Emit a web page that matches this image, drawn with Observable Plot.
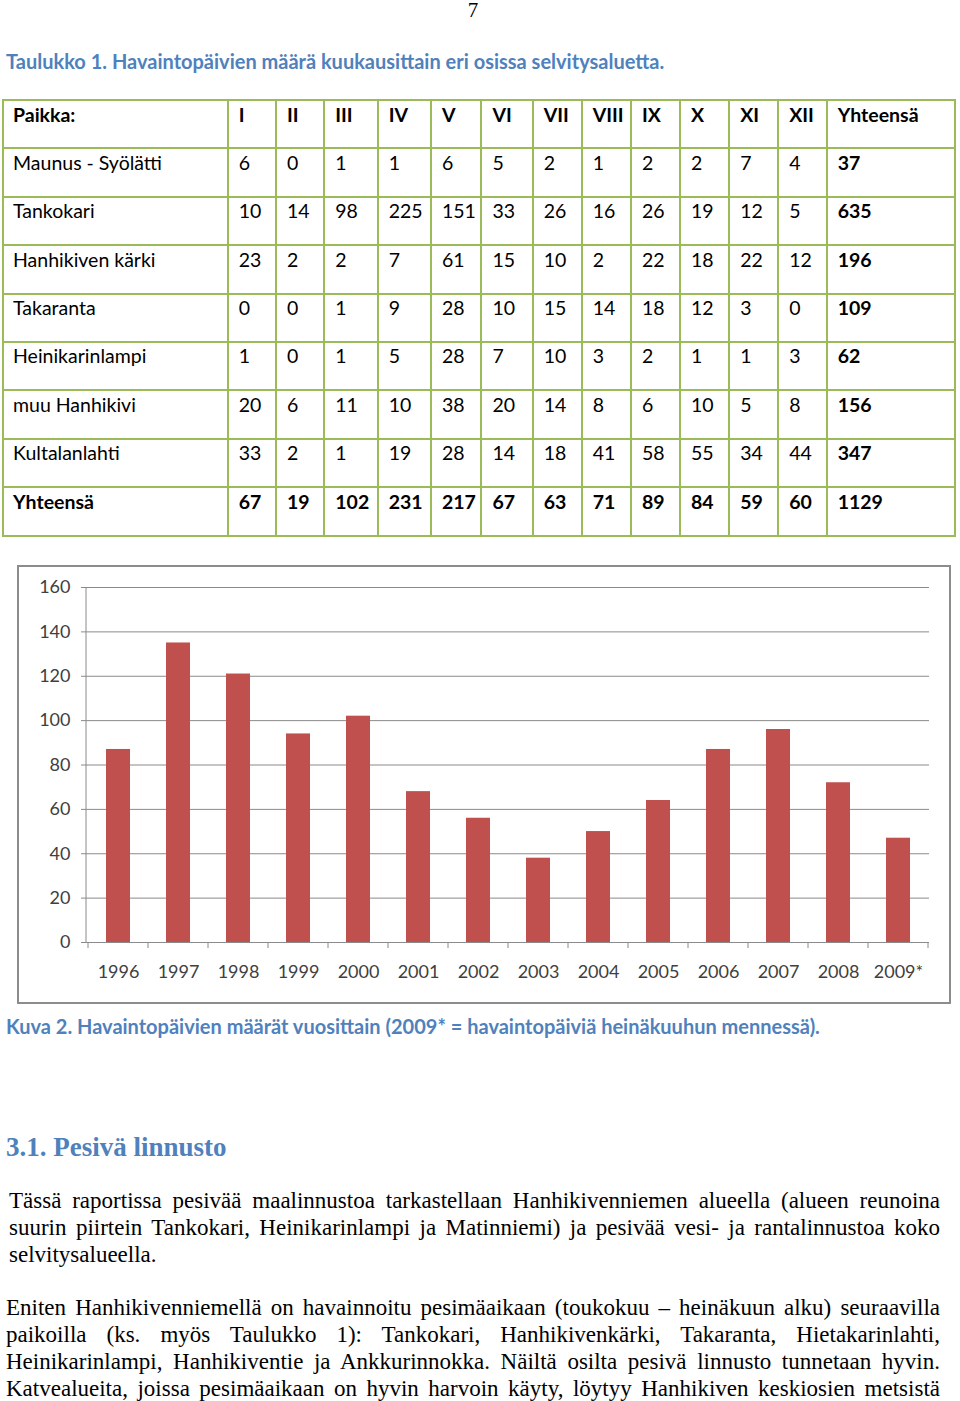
<!DOCTYPE html>
<html>
<head>
<meta charset="utf-8">
<script src="https://cdn.jsdelivr.net/npm/d3@7"></script>
<script src="https://cdn.jsdelivr.net/npm/@observablehq/plot@0.6"></script>
<style>
  html, body { margin: 0; padding: 0; background: #fff; }
  body { position: relative; width: 960px; height: 1401px; overflow: hidden; }
  .abs { position: absolute; }
  .pagenum { left: 0; width: 946px; top: 0px; text-align: center; font-family: "Liberation Serif", serif; font-size: 21px; line-height: 20px; color: #000; }
  .cap { left: 6px; font-family: Lato, "Open Sans", sans-serif; font-weight: bold; font-size: 20px; line-height: 22px; color: #4f81bd; white-space: nowrap; }
  .head { left: 6px; font-family: "Liberation Serif", serif; font-weight: bold; font-size: 27px; line-height: 30px; color: #4f81bd; white-space: nowrap; }
  .grid { left: 2px; top: 99px; display: grid; background: #9bbb59; padding: 2px; gap: 2px; }
  .cell { background: #fff; font-family: Lato, "Open Sans", sans-serif; font-size: 19.5px; line-height: 24px; color: #000; padding: 1.5px 0 0 10px; box-sizing: border-box; white-space: nowrap; }
  .cell.first { padding-left: 9px; }
  .cell.b { font-weight: bold; }
  .frame { left: 17px; top: 565px; width: 934px; height: 439px; border: 2px solid #8c8c8c; box-sizing: border-box; pointer-events: none; }
  #chart { left: 17px; top: 565px; width: 934px; height: 439px; }
  .body { font-family: "Liberation Serif", "Times New Roman", serif; font-size: 23px; line-height: 27px; color: #000; }
  .line { text-align: justify; text-align-last: justify; white-space: nowrap; }
  .line.last { text-align-last: left; }
</style>
</head>
<body>
<script>
// ---------- Table data ----------
const tableTitle = "Taulukko 1. Havaintopäivien määrä kuukausittain eri osissa selvitysaluetta.";
const headerFirst = "Paikka:";
const months = ["I","II","III","IV","V","VI","VII","VIII","IX","X","XI","XII"];
const totalHeader = "Yhteensä";
const places = ["Maunus - Syölätti","Tankokari","Hanhikiven kärki","Takaranta","Heinikarinlampi","muu Hanhikivi","Kultalanlahti","Yhteensä"];
const rowMaunus   = [6, 0, 1, 1, 6, 5, 2, 1, 2, 2, 7, 4];
const rowTankokari= [10, 14, 98, 225, 151, 33, 26, 16, 26, 19, 12, 5];
const rowHanhikivenKarki = [23, 2, 2, 7, 61, 15, 10, 2, 22, 18, 22, 12];
const rowTakaranta = [0, 0, 1, 9, 28, 10, 15, 14, 18, 12, 3, 0];
const rowHeinikarinlampi = [1, 0, 1, 5, 28, 7, 10, 3, 2, 1, 1, 3];
const rowMuuHanhikivi = [20, 6, 11, 10, 38, 20, 14, 8, 6, 10, 5, 8];
const rowKultalanlahti = [33, 2, 1, 19, 28, 14, 18, 41, 58, 55, 34, 44];
const rowYhteensa = [67, 19, 102, 231, 217, 67, 63, 71, 89, 84, 59, 60];
const rowTotals = [37, 635, 196, 109, 62, 156, 347, 1129];

// ---------- Chart data ----------
const chartCaption = "Kuva 2. Havaintopäivien määrät vuosittain (2009* = havaintopäiviä heinäkuuhun mennessä).";
const years = ["1996","1997","1998","1999","2000","2001","2002","2003","2004","2005","2006","2007","2008","2009*"];
const days  = [87, 135, 121, 94, 102, 68, 56, 38, 50, 64, 87, 96, 72, 47];
const yTicks = [0, 20, 40, 60, 80, 100, 120, 140, 160];

// ---------- Text ----------
const heading = "3.1. Pesivä linnusto";
const para1 = [
  "Tässä raportissa pesivää maalinnustoa tarkastellaan Hanhikivenniemen alueella (alueen reunoina",
  "suurin piirtein Tankokari, Heinikarinlampi ja Matinniemi) ja pesivää vesi- ja rantalinnustoa koko",
  "selvitysalueella."
];
const para2 = [
  "Eniten Hanhikivenniemellä on havainnoitu pesimäaikaan (toukokuu – heinäkuun alku) seuraavilla",
  "paikoilla (ks. myös Taulukko 1): Tankokari, Hanhikivenkärki, Takaranta, Hietakarinlahti,",
  "Heinikarinlampi, Hanhikiventie ja Ankkurinnokka. Näiltä osilta pesivä linnusto tunnetaan hyvin.",
  "Katvealueita, joissa pesimäaikaan on hyvin harvoin käyty, löytyy Hanhikiven keskiosien metsistä"
];

const rows = [rowMaunus, rowTankokari, rowHanhikivenKarki, rowTakaranta, rowHeinikarinlampi, rowMuuHanhikivi, rowKultalanlahti, rowYhteensa];

function add(html, cls, style) {
  const el = document.createElement("div");
  el.className = cls;
  if (style) el.setAttribute("style", style);
  el.textContent = html;
  document.body.appendChild(el);
  return el;
}

// page number
add("7", "abs pagenum");
// table caption
add(tableTitle, "abs cap", "top:50px;");

// table as grid
const colLines = [3, 227.7, 276, 324.3, 377.7, 431, 481.5, 532.7, 581.7, 631, 680, 729.3, 778.3, 826.7, 955];
const colW = colLines.slice(1).map((b, i) => (b - colLines[i] - 2) + "px");
const rowH = 48.4;
const grid = document.createElement("div");
grid.className = "abs grid";
grid.style.gridTemplateColumns = colW.join(" ");
grid.style.gridAutoRows = (rowH - 2) + "px";
function cell(text, cls) {
  const c = document.createElement("div");
  c.className = "cell " + (cls || "");
  c.textContent = text;
  grid.appendChild(c);
}
cell(headerFirst, "first b");
months.forEach(m => cell(m, "b"));
cell(totalHeader, "b");
rows.forEach((r, i) => {
  const last = i === rows.length - 1;
  cell(places[i], "first" + (last ? " b" : ""));
  r.forEach(v => cell(String(v), last ? "b" : ""));
  cell(String(rowTotals[i]), "b");
});
document.body.appendChild(grid);

// chart
const chartDiv = document.createElement("div");
chartDiv.id = "chart";
chartDiv.className = "abs";
document.body.appendChild(chartDiv);

const data = years.map((y, i) => ({year: y, days: days[i]}));
const axisColor = "#8a8a8a";
const textColor = "#404040";

const boundaryMark = (index, scales, values, dimensions) => {
  const x = scales.x, y = scales.y;
  const bw = x.bandwidth();
  const step = x.step ? x.step() : bw / 0.4;
  const off = (step - bw) / 2;
  const y0 = y(0);
  const xs = years.map(d => x(d) - off).concat([x(years[years.length - 1]) + bw + off]);
  const g = d3.create("svg:g").attr("stroke", axisColor).attr("stroke-width", 1);
  g.selectAll("line.t").data(xs).join("line")
    .attr("x1", d => d).attr("x2", d => d)
    .attr("y1", y0).attr("y2", y0 + 6);
  g.append("line")
    .attr("x1", dimensions.marginLeft).attr("x2", dimensions.marginLeft)
    .attr("y1", dimensions.marginTop).attr("y2", y0);
  return g.node();
};

const chart = Plot.plot({
  width: 934,
  height: 439,
  marginLeft: 69,
  marginRight: 22,
  marginTop: 22,
  marginBottom: 62,
  style: {fontFamily: "Lato, 'Open Sans', sans-serif", fontSize: "18px", background: "transparent", overflow: "visible"},
  x: {domain: years, paddingInner: 0.6, paddingOuter: 0.3, label: null},
  y: {domain: [0, 160], label: null},
  marks: [
    Plot.gridY(yTicks, {stroke: axisColor, strokeOpacity: 1, strokeWidth: 1}),
    Plot.barY(data, {x: "year", y: "days", fill: "#c0504d"}),
    Plot.axisY(yTicks, {tickSize: 5, tickPadding: 11, stroke: axisColor, fill: textColor, label: null, fontSize: 18}),
    Plot.axisX({tickSize: 0, tickPadding: 23, fill: textColor, label: null, fontSize: 18}),
    boundaryMark
  ]
});
chartDiv.appendChild(chart);
add("", "abs frame");

// chart caption
add(chartCaption, "abs cap", "top:1015px;");
// heading
add(heading, "abs head", "top:1132px;");

// paragraphs
const p1 = document.createElement("div");
p1.className = "abs body";
p1.style.left = "9px"; p1.style.width = "931px"; p1.style.top = "1187px";
para1.forEach((t, i) => {
  const l = document.createElement("div");
  l.className = "line" + (i === para1.length - 1 ? " last" : "");
  l.textContent = t;
  p1.appendChild(l);
});
document.body.appendChild(p1);

const p2 = document.createElement("div");
p2.className = "abs body";
p2.style.left = "6px"; p2.style.width = "934px"; p2.style.top = "1294px";
para2.forEach((t) => {
  const l = document.createElement("div");
  l.className = "line";
  l.textContent = t;
  p2.appendChild(l);
});
document.body.appendChild(p2);
</script>
</body>
</html>
